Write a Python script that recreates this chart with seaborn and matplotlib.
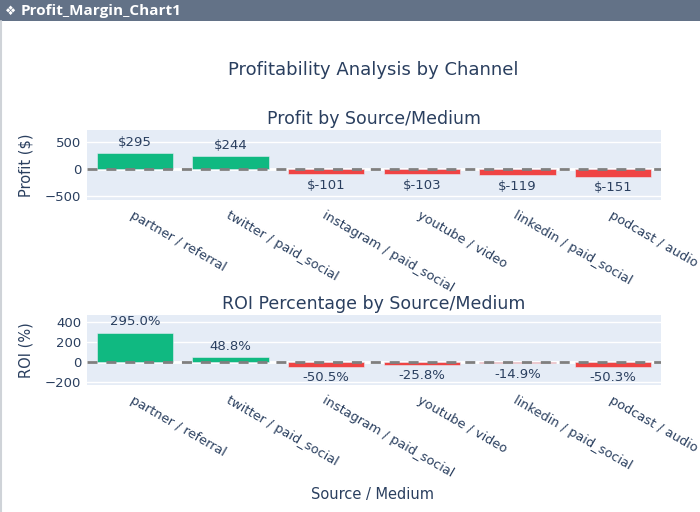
import matplotlib
matplotlib.use("Agg")
import matplotlib.pyplot as plt
import seaborn as sns
import pandas as pd
from matplotlib.patches import Rectangle
from matplotlib.lines import Line2D

channels = ["partner / referral", "twitter / paid_social", "instagram / paid_social",
            "youtube / video", "linkedin / paid_social", "podcast / audio"]
profit = [295, 244, -101, -103, -119, -151]
roi = [295.0, 48.8, -50.5, -25.8, -14.9, -50.3]
profit_labels = ["$295", "$244", "$-101", "$-103", "$-119", "$-151"]
roi_labels = ["295.0%", "48.8%", "-50.5%", "-25.8%", "-14.9%", "-50.3%"]
profit_ticks = [-500, 0, 500]
roi_ticks = [-200, 0, 200, 400]

GREEN = "#10b981"
RED = "#ef4444"
TXT = "#2a3f5f"
BG = "#e5ecf6"

sns.set_theme(style="white")
plt.rcParams["font.family"] = ["DejaVu Sans"]

W, H = 700, 512
fig = plt.figure(figsize=(7, 5.12), dpi=100)
fig.patch.set_facecolor("white")

# window title bar
fig.patches.append(Rectangle((0, 1 - 21 / H), 1, 21 / H, transform=fig.transFigure,
                             facecolor="#637287", edgecolor="none", zorder=0))
fig.lines.append(Line2D([1 / W, 1 / W], [0, 1 - 21 / H], transform=fig.transFigure,
                        color="#cfd3d8", lw=1.5))
fig.text(5 / W, 1 - 11 / H, "❖", color="white", fontsize=9,
         fontweight="bold", va="center", ha="left", family=["DejaVu Sans"])
fig.text(21 / W, 1 - 11 / H, "Profit_Margin_Chart1", color="white", fontsize=11,
         fontweight="bold", va="center", ha="left", family=["Open Sans", "DejaVu Sans"])

fig.text(373 / W, 1 - 70 / H, "Profitability Analysis by Channel", color=TXT,
         fontsize=13, ha="center", va="center")

left = 87 / W
width = 574 / W
ax1 = fig.add_axes([left, 1 - 200 / H, width, 70 / H])
ax2 = fig.add_axes([left, 1 - 385 / H, width, 70 / H])


def draw(ax, vals, labels, ticks, ylim, title, ylabel):
    df = pd.DataFrame({"ch": channels, "v": vals,
                       "s": ["pos" if v >= 0 else "neg" for v in vals]})
    sns.barplot(data=df, x="ch", y="v", hue="s", palette={"pos": GREEN, "neg": RED},
                dodge=False, legend=False, ax=ax, width=0.8, saturation=1, zorder=2,
                edgecolor=BG, linewidth=0.4)
    ax.set_facecolor(BG)
    for sp in ax.spines.values():
        sp.set_visible(False)
    ax.set_ylim(*ylim)
    ax.set_xlim(-0.5, len(channels) - 0.5)
    ax.set_yticks(ticks)
    ax.set_yticklabels([str(t).replace("-", "\u2212") for t in ticks])
    ax.grid(axis="y", color="white", lw=1, zorder=0)
    ax.axhline(0, color="white", lw=2, zorder=1)
    ax.set_axisbelow(True)
    ax.tick_params(axis="y", length=0, pad=4, labelsize=9.5, labelcolor=TXT)
    ax.tick_params(axis="x", length=0, pad=6, labelsize=9.3, labelcolor=TXT)
    ax.set_xticks(range(len(channels)))
    ax.set_xticklabels(channels, rotation=-30, ha="left", rotation_mode="anchor")
    ax.set_xlabel("")
    ax.set_ylabel(ylabel, color=TXT, fontsize=10.5, labelpad=8)
    ax.set_title(title, color=TXT, fontsize=12.5, pad=4)
    # bar labels
    for cont in ax.containers:
        for bar in cont:
            h = bar.get_height()
            if h != h:
                continue
            idx = int(round(bar.get_x() + bar.get_width() / 2))
            ax.annotate(labels[idx], (bar.get_x() + bar.get_width() / 2, h),
                        xytext=(0, 3 if h >= 0 else -3), textcoords="offset points",
                        ha="center", va="bottom" if h >= 0 else "top",
                        color=TXT, fontsize=9.5, zorder=5)
    ax.axhline(0, color="#7f7f7f", lw=2, linestyle=(0, (3.6, 3.2)), zorder=4)


draw(ax1, profit, profit_labels, profit_ticks, (-575, 720),
     "Profit by Source/Medium", "Profit ($)")
draw(ax2, roi, roi_labels, roi_ticks, (-230, 470),
     "ROI Percentage by Source/Medium", "ROI (%)")

fig.text(373 / W, 1 - 495 / H, "Source / Medium", color=TXT, fontsize=10.5,
         ha="center", va="center")

fig.savefig("out.png", dpi=100)
